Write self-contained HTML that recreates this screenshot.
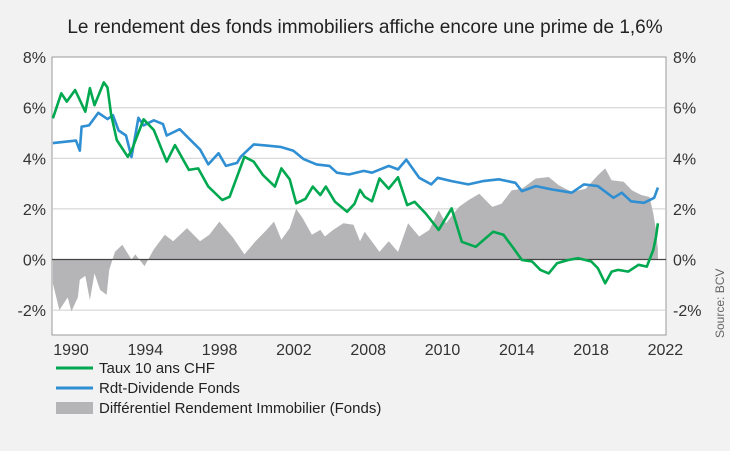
<!DOCTYPE html>
<html><head><meta charset="utf-8"><style>
body{margin:0;background:#f2f2f2;width:730px;height:446px;overflow:hidden;font-family:"Liberation Sans",sans-serif}
</style></head><body>
<svg id="c" width="730" height="446" xmlns="http://www.w3.org/2000/svg" style="font-family:'Liberation Sans',sans-serif">
<rect width="730" height="446" fill="#f2f2f2"/>
<text x="365" y="33" text-anchor="middle" font-size="19" fill="#222">Le rendement des fonds immobiliers affiche encore une prime de 1,6%</text>
<rect x="52" y="57" width="614" height="278" fill="#fff" stroke="#999" stroke-width="1"/>
<g id="grid"></g><g id="gray"></g><g id="lines"></g><g id="axes"></g>
<text transform="translate(724,338) rotate(-90)" font-size="12" fill="#666">Source: BCV</text>
<g>
<line x1="56" y1="368" x2="93" y2="368" stroke="#00a84f" stroke-width="3"/>
<text x="99" y="373" font-size="15" fill="#222">Taux 10 ans CHF</text>
<line x1="56" y1="388" x2="93" y2="388" stroke="#2f8fd2" stroke-width="3"/>
<text x="99" y="393" font-size="15" fill="#222">Rdt-Dividende Fonds</text>
<rect x="56" y="402" width="37" height="12" fill="#b5b5b7"/>
<text x="99" y="413" font-size="15" fill="#222">Différentiel Rendement Immobilier (Fonds)</text>
</g>
</svg>
<script>
const yTicks=[8,6,4,2,0,-2];
const yTickLabels=["8%","6%","4%","2%","0%","-2%"];
const xTickLabels=["1990","1994","1998","2002","2008","2010","2014","2018","2022"];
const greenT=[1989.05,1989.5,1989.8,1990.25,1990.8,1991.05,1991.3,1991.8,1992.0,1992.2,1992.5,1993.1,1993.3,1993.95,1994.5,1995.2,1995.65,1996.4,1996.9,1997.45,1998.2,1998.6,1999.4,1999.9,2000.4,2001.05,2001.4,2001.85,2002.2,2002.7,2003.1,2003.5,2003.8,2004.3,2004.95,2005.35,2005.65,2005.9,2006.3,2006.7,2007.2,2007.7,2008.2,2008.6,2009.2,2009.9,2010.6,2011.15,2011.9,2012.3,2012.85,2013.4,2013.95,2014.4,2014.95,2015.4,2015.85,2016.3,2016.9,2017.45,2018.15,2018.5,2018.9,2019.25,2019.6,2020.15,2020.7,2021.15,2021.5,2021.65,2021.75];
const greenV=[5.58,6.57,6.24,6.7,5.84,6.77,6.1,7.0,6.8,5.71,4.72,4.06,4.3,5.54,5.12,3.87,4.52,3.54,3.6,2.88,2.35,2.48,4.06,3.87,3.34,2.88,3.6,3.17,2.22,2.4,2.88,2.55,2.88,2.28,1.89,2.2,2.75,2.48,2.3,3.2,2.8,3.25,2.15,2.28,1.82,1.17,2.02,0.7,0.5,0.75,1.1,0.98,0.44,-0.02,-0.08,-0.41,-0.55,-0.15,-0.02,0.05,-0.08,-0.34,-0.94,-0.48,-0.41,-0.48,-0.21,-0.28,0.38,0.9,1.43];
const blueT=[1989.05,1990.3,1990.5,1990.6,1991.0,1991.5,1992.0,1992.3,1992.6,1993.0,1993.3,1993.67,1993.95,1994.5,1995.0,1995.2,1995.9,1996.45,1997.0,1997.45,1998.0,1998.4,1999.0,1999.2,1999.9,2000.6,2001.35,2002.05,2002.6,2003.3,2004.0,2004.4,2005.05,2005.85,2006.3,2007.2,2007.7,2008.15,2008.85,2009.5,2009.85,2010.6,2011.5,2012.3,2013.15,2014.05,2014.4,2015.15,2016.0,2017.1,2017.75,2018.5,2019.35,2019.8,2020.3,2021.0,2021.55,2021.75];
const blueV=[4.6,4.7,4.3,5.25,5.3,5.8,5.55,5.7,5.1,4.9,4.05,5.6,5.3,5.5,5.35,4.9,5.15,4.75,4.35,3.76,4.2,3.7,3.82,4.06,4.55,4.5,4.45,4.3,3.97,3.76,3.7,3.43,3.36,3.5,3.43,3.7,3.56,3.95,3.23,2.97,3.23,3.1,2.97,3.1,3.17,3.03,2.7,2.9,2.77,2.64,2.97,2.9,2.44,2.64,2.3,2.24,2.44,2.84];
const grayT=[1989.05,1989.4,1989.85,1990.05,1990.4,1990.5,1990.8,1991.05,1991.3,1991.6,1991.95,1992.1,1992.4,1992.8,1993.3,1993.5,1994.0,1994.5,1995.1,1995.55,1996.3,1997.0,1997.5,1998.05,1998.8,1999.4,2000.0,2000.6,2001.0,2001.4,2001.85,2002.2,2002.55,2003.05,2003.5,2003.75,2004.2,2004.75,2005.3,2005.65,2005.9,2006.7,2007.2,2007.7,2008.25,2008.85,2009.4,2009.9,2010.3,2011.0,2011.5,2012.1,2012.8,2013.3,2013.85,2014.4,2015.15,2015.85,2016.4,2017.1,2017.85,2018.5,2018.9,2019.25,2019.9,2020.35,2020.85,2021.3,2021.5,2021.65,2021.75];
const grayV=[-0.95,-2.0,-1.5,-2.05,-1.5,-0.8,-0.65,-1.6,-0.55,-1.2,-1.4,-0.4,0.3,0.58,0,0.2,-0.26,0.4,0.98,0.72,1.24,0.72,0.98,1.5,0.85,0.2,0.72,1.17,1.5,0.78,1.24,2.0,1.63,0.98,1.17,0.91,1.17,1.43,1.37,0.72,1.1,0.3,0.72,0.3,1.43,0.91,1.17,1.95,1.43,2.08,2.34,2.6,2.08,2.2,2.73,2.8,3.2,3.26,2.93,2.67,2.8,3.33,3.6,3.13,3.07,2.73,2.55,2.47,1.82,1.17,0.4];
const NS="http://www.w3.org/2000/svg";
const x=t=>52+(t-1989)*18.5;
const y=v=>259.5-v*25.3;
function mk(tag,attrs,parent){const e=document.createElementNS(NS,tag);for(const k in attrs)e.setAttribute(k,attrs[k]);document.getElementById(parent).appendChild(e);return e;}
yTicks.forEach((v,i)=>{
  if(v!==8&&v!==0){const g=mk('line',{x1:52,x2:666,y1:y(v),y2:y(v),stroke:'#cfcfcf','stroke-width':1},'grid');
  
  }
  const l=mk('text',{x:46,y:y(v)+6,'text-anchor':'end','font-size':16,fill:'#333'},'axes');l.textContent=yTickLabels[i];
  
  
  const r=mk('text',{x:673,y:y(v)+6,'font-size':16,fill:'#333'},'axes');r.textContent=yTickLabels[i];
  
  
});
xTickLabels.forEach((s,i)=>{
  const t=mk('text',{x:71+i*74.3,y:355,'text-anchor':'middle','font-size':16,fill:'#333'},'axes');t.textContent=s;
  
  
});
let d='M'+x(grayT[0])+','+y(0);
grayT.forEach((t,i)=>{d+='L'+x(t).toFixed(1)+','+y(grayV[i]).toFixed(1);});
d+='L'+x(grayT[grayT.length-1])+','+y(0)+'Z';
const a=mk('path',{d:d,fill:'#b5b5b7'},'gray');


const z=mk('line',{x1:52,x2:666,y1:y(0),y2:y(0),stroke:'#444','stroke-width':1.2},'gray');


function line(T,V,c,name){const p=mk('polyline',{points:T.map((t,i)=>x(t).toFixed(1)+','+y(V[i]).toFixed(1)).join(' '),fill:'none',stroke:c,'stroke-width':2.6,'stroke-linejoin':'round'},'lines');

}
line(blueT,blueV,'#2f8fd2','rdt-dividende-line');
line(greenT,greenV,'#00a84f','taux-10-ans-line');
</script>
</body></html>
